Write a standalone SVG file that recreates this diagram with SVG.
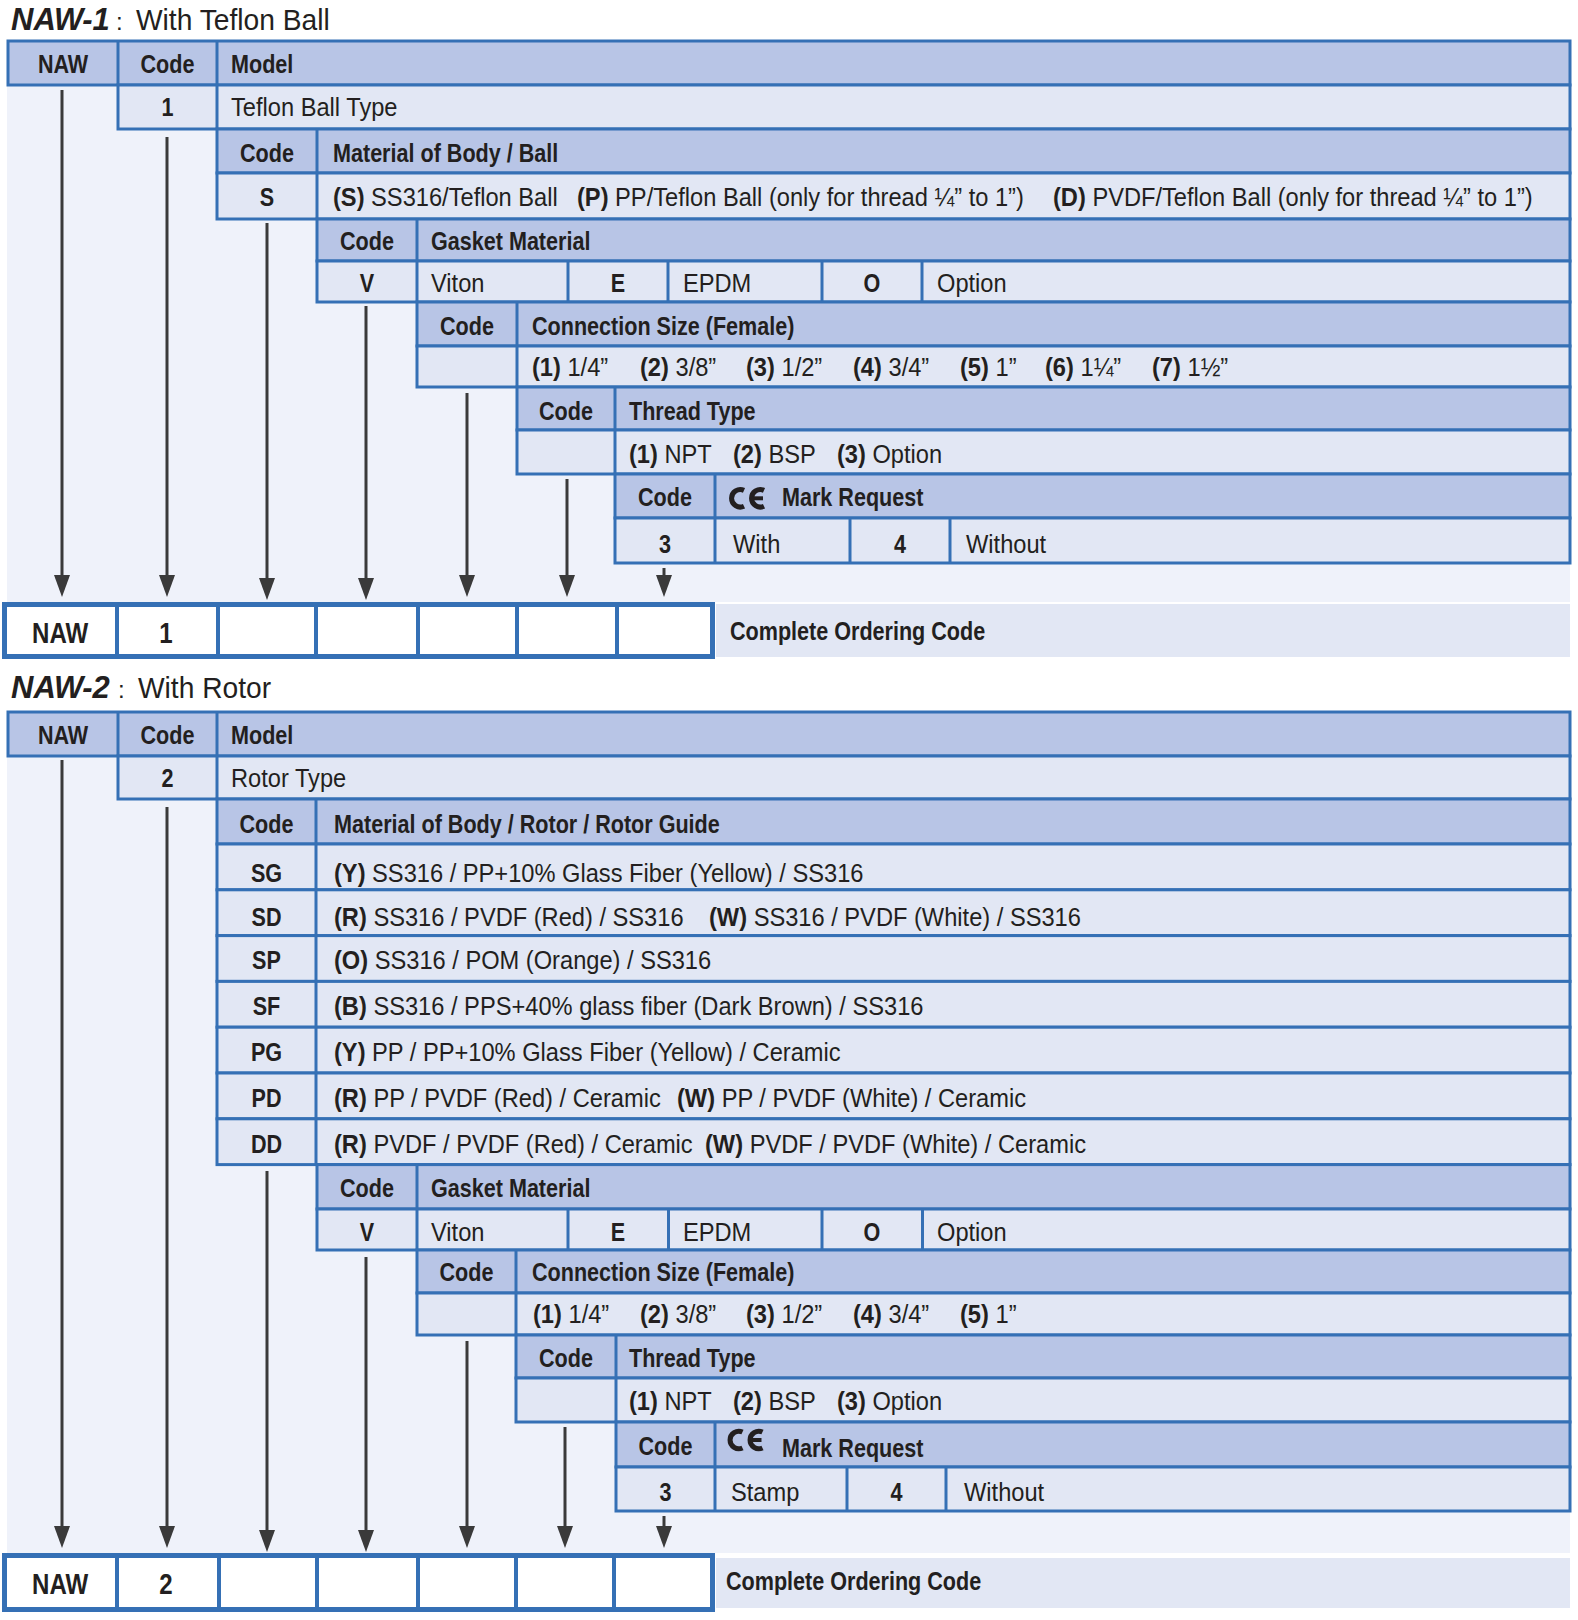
<svg xmlns="http://www.w3.org/2000/svg" width="1578" height="1620" viewBox="0 0 1578 1620">
<defs>
<style>
.bg{fill:#eff2fa}
.h{fill:#b8c5e6;stroke:#3570b5;stroke-width:3}
.w{fill:#e2e7f4;stroke:#3570b5;stroke-width:3}
.dv{stroke:#3570b5;stroke-width:3;fill:none}
.box{fill:#ffffff;stroke:#3570b5;stroke-width:5}
.bdv{stroke:#3570b5;stroke-width:4;fill:none}
.pan{fill:#e2e7f4}
.t{font-family:"Liberation Sans",Arial,sans-serif;fill:#231f20;transform-box:fill-box}
.b{font-weight:700;font-size:26px;transform:scaleX(.83)}
.r{font-weight:400;font-size:26px;transform:scaleX(.91)}
.bb{font-weight:700;font-size:29px;transform:scaleX(.83)}
.tb{font-weight:700;font-style:italic;font-size:31px}
.tr{font-weight:400;font-size:30px;transform:scaleX(.94)}
.tc{font-weight:400;font-size:24px}
.s{transform-origin:left center}
.c{text-anchor:middle;transform-origin:center}
.k{font-weight:700}
.ce{fill:none;stroke:#231f20;stroke-width:5}
.cb{fill:none;stroke:#231f20;stroke-width:4}
.ar{stroke:#3a3a3a;stroke-width:3;fill:none;marker-end:url(#ah)}
</style>
<marker id="ah" markerUnits="userSpaceOnUse" markerWidth="22" markerHeight="16" refX="10" refY="8" orient="auto">
<path d="M0,0 L22,8 L0,16 Z" fill="#3a3a3a"/>
</marker>
</defs>

<!-- ================= NAW-1 ================= -->
<g id="naw1-title">
<text class="t tb s" x="11" y="30">NAW-1</text>
<text class="t tc s" x="116" y="30">:</text>
<text class="t tr s" x="136" y="30">With Teflon Ball</text>
</g>
<rect class="bg" x="7" y="85" width="1563" height="517"/>

<g id="naw1-model">
<rect class="h" x="8" y="41" width="1562" height="44"/>
<line class="dv" x1="118" y1="41" x2="118" y2="85"/>
<line class="dv" x1="217" y1="41" x2="217" y2="85"/>
<text class="t b c" x="63" y="73">NAW</text>
<text class="t b c" x="167.5" y="73">Code</text>
<text class="t b s" x="231" y="73">Model</text>
<rect class="w" x="118" y="85" width="1452" height="44"/>
<line class="dv" x1="217" y1="85" x2="217" y2="129"/>
<text class="t b c" x="167.5" y="116">1</text>
<text class="t r s" x="231" y="116">Teflon Ball Type</text>
</g>

<g id="naw1-material">
<rect class="h" x="217" y="129" width="1353" height="44"/>
<line class="dv" x1="317" y1="129" x2="317" y2="173"/>
<text class="t b c" x="267" y="162.5">Code</text>
<text class="t b s" x="333" y="162.5">Material of Body / Ball</text>
<rect class="w" x="217" y="173" width="1353" height="46"/>
<line class="dv" x1="317" y1="173" x2="317" y2="219"/>
<text class="t b c" x="267" y="206">S</text>
<text class="t r s" x="333" y="206"><tspan class="k">(S)</tspan> SS316/Teflon Ball</text>
<text class="t r s" x="577" y="206"><tspan class="k">(P)</tspan> PP/Teflon Ball (only for thread ¼” to 1”)</text>
<text class="t r s" x="1053" y="206"><tspan class="k">(D)</tspan> PVDF/Teflon Ball (only for thread ¼” to 1”)</text>
</g>

<g id="naw1-gasket">
<rect class="h" x="317" y="219" width="1253" height="42"/>
<line class="dv" x1="417" y1="219" x2="417" y2="261"/>
<text class="t b c" x="367" y="250">Code</text>
<text class="t b s" x="431" y="250">Gasket Material</text>
<rect class="w" x="317" y="261" width="1253" height="41"/>
<line class="dv" x1="417" y1="261" x2="417" y2="302"/>
<line class="dv" x1="568" y1="261" x2="568" y2="302"/>
<line class="dv" x1="668" y1="261" x2="668" y2="302"/>
<line class="dv" x1="822" y1="261" x2="822" y2="302"/>
<line class="dv" x1="922" y1="261" x2="922" y2="302"/>
<text class="t b c" x="367" y="292.5">V</text>
<text class="t r s" x="431" y="292.5">Viton</text>
<text class="t b c" x="618" y="292.5">E</text>
<text class="t r s" x="683" y="292.5">EPDM</text>
<text class="t b c" x="872" y="292.5">O</text>
<text class="t r s" x="937" y="292.5">Option</text>
</g>

<g id="naw1-size">
<rect class="h" x="417" y="302" width="1153" height="44"/>
<line class="dv" x1="517" y1="302" x2="517" y2="346"/>
<text class="t b c" x="467" y="335">Code</text>
<text class="t b s" x="532" y="335">Connection Size (Female)</text>
<rect class="w" x="417" y="346" width="1153" height="41"/>
<line class="dv" x1="517" y1="346" x2="517" y2="387"/>
<text class="t r s" x="532" y="376.5"><tspan class="k">(1)</tspan> 1/4”</text>
<text class="t r s" x="640" y="376.5"><tspan class="k">(2)</tspan> 3/8”</text>
<text class="t r s" x="746" y="376.5"><tspan class="k">(3)</tspan> 1/2”</text>
<text class="t r s" x="853" y="376.5"><tspan class="k">(4)</tspan> 3/4”</text>
<text class="t r s" x="960" y="376.5"><tspan class="k">(5)</tspan> 1”</text>
<text class="t r s" x="1045" y="376.5"><tspan class="k">(6)</tspan> 1¼”</text>
<text class="t r s" x="1152" y="376.5"><tspan class="k">(7)</tspan> 1½”</text>
</g>

<g id="naw1-thread">
<rect class="h" x="517" y="387" width="1053" height="43"/>
<line class="dv" x1="615" y1="387" x2="615" y2="430"/>
<text class="t b c" x="566" y="420">Code</text>
<text class="t b s" x="629" y="420">Thread Type</text>
<rect class="w" x="517" y="430" width="1053" height="44"/>
<line class="dv" x1="615" y1="430" x2="615" y2="474"/>
<text class="t r s" x="629" y="463.5"><tspan class="k">(1)</tspan> NPT</text>
<text class="t r s" x="733" y="463.5"><tspan class="k">(2)</tspan> BSP</text>
<text class="t r s" x="837" y="463.5"><tspan class="k">(3)</tspan> Option</text>
</g>

<g id="naw1-ce">
<rect class="h" x="615" y="474" width="955" height="44"/>
<line class="dv" x1="715" y1="474" x2="715" y2="518"/>
<text class="t b c" x="665" y="506.5">Code</text>
<path class="ce" d="M744,490.37 A8.75,8.75 0 1 0 744,506.23"/>
<path class="ce" d="M764,490.37 A8.75,8.75 0 1 0 764,506.23"/>
<path class="cb" d="M752,498.3 H763"/>
<text class="t b s" x="782" y="506.5">Mark Request</text>
<rect class="w" x="615" y="518" width="955" height="45"/>
<line class="dv" x1="715" y1="518" x2="715" y2="563"/>
<line class="dv" x1="850" y1="518" x2="850" y2="563"/>
<line class="dv" x1="950" y1="518" x2="950" y2="563"/>
<text class="t b c" x="665" y="553">3</text>
<text class="t r s" x="733" y="553">With</text>
<text class="t b c" x="900" y="553">4</text>
<text class="t r s" x="966" y="553">Without</text>
</g>

<g id="naw1-order">
<rect class="pan" x="716" y="604" width="854" height="53"/>
<text class="t b s" x="730" y="640">Complete Ordering Code</text>
<rect class="box" x="4.5" y="604.5" width="708" height="52"/>
<line class="bdv" x1="117" y1="604" x2="117" y2="657"/>
<line class="bdv" x1="218" y1="604" x2="218" y2="657"/>
<line class="bdv" x1="316" y1="604" x2="316" y2="657"/>
<line class="bdv" x1="418" y1="604" x2="418" y2="657"/>
<line class="bdv" x1="517" y1="604" x2="517" y2="657"/>
<line class="bdv" x1="617" y1="604" x2="617" y2="657"/>
<text class="t bb c" x="60" y="643">NAW</text>
<text class="t bb c" x="166" y="643">1</text>
</g>

<g id="naw1-connectors">
<line class="ar" x1="62" y1="90" x2="62" y2="585"/>
<line class="ar" x1="167" y1="137" x2="167" y2="585"/>
<line class="ar" x1="267" y1="223" x2="267" y2="588"/>
<line class="ar" x1="366" y1="306" x2="366" y2="588"/>
<line class="ar" x1="467" y1="393" x2="467" y2="585"/>
<line class="ar" x1="567" y1="479" x2="567" y2="585"/>
<line class="ar" x1="664" y1="568" x2="664" y2="585"/>
</g>

<!-- ================= NAW-2 ================= -->
<g id="naw2-title">
<text class="t tb s" x="11" y="698">NAW-2</text>
<text class="t tc s" x="118" y="698">:</text>
<text class="t tr s" x="138" y="698">With Rotor</text>
</g>
<rect class="bg" x="7" y="756" width="1563" height="797"/>

<g id="naw2-model">
<rect class="h" x="8" y="712" width="1562" height="44"/>
<line class="dv" x1="118" y1="712" x2="118" y2="756"/>
<line class="dv" x1="217" y1="712" x2="217" y2="756"/>
<text class="t b c" x="63" y="744">NAW</text>
<text class="t b c" x="167.5" y="744">Code</text>
<text class="t b s" x="231" y="744">Model</text>
<rect class="w" x="118" y="756" width="1452" height="43"/>
<line class="dv" x1="217" y1="756" x2="217" y2="799"/>
<text class="t b c" x="167.5" y="787">2</text>
<text class="t r s" x="231" y="787">Rotor Type</text>
</g>

<g id="naw2-material">
<rect class="h" x="217" y="799" width="1353" height="45"/>
<line class="dv" x1="316" y1="799" x2="316" y2="844"/>
<text class="t b c" x="266.5" y="833">Code</text>
<text class="t b s" x="334" y="833">Material of Body / Rotor / Rotor Guide</text>
<rect class="w" x="217" y="844" width="1353" height="45.8"/>
<rect class="w" x="217" y="889.8" width="1353" height="45.8"/>
<rect class="w" x="217" y="935.6" width="1353" height="45.8"/>
<rect class="w" x="217" y="981.4" width="1353" height="45.8"/>
<rect class="w" x="217" y="1027.2" width="1353" height="45.8"/>
<rect class="w" x="217" y="1073" width="1353" height="45.8"/>
<rect class="w" x="217" y="1118.8" width="1353" height="45.8"/>
<line class="dv" x1="316" y1="844" x2="316" y2="1164.6"/>
<text class="t b c" x="266.5" y="882">SG</text>
<text class="t r s" x="334" y="882"><tspan class="k">(Y)</tspan> SS316 / PP+10% Glass Fiber (Yellow) / SS316</text>
<text class="t b c" x="266.5" y="926">SD</text>
<text class="t r s" x="334" y="926"><tspan class="k">(R)</tspan> SS316 / PVDF (Red) / SS316</text>
<text class="t r s" x="709" y="926"><tspan class="k">(W)</tspan> SS316 / PVDF (White) / SS316</text>
<text class="t b c" x="266.5" y="969.5">SP</text>
<text class="t r s" x="334" y="969.5"><tspan class="k">(O)</tspan> SS316 / POM (Orange) / SS316</text>
<text class="t b c" x="266.5" y="1015">SF</text>
<text class="t r s" x="334" y="1015"><tspan class="k">(B)</tspan> SS316 / PPS+40% glass fiber (Dark Brown) / SS316</text>
<text class="t b c" x="266.5" y="1060.7">PG</text>
<text class="t r s" x="334" y="1060.7"><tspan class="k">(Y)</tspan> PP / PP+10% Glass Fiber (Yellow) / Ceramic</text>
<text class="t b c" x="266.5" y="1106.7">PD</text>
<text class="t r s" x="334" y="1106.7"><tspan class="k">(R)</tspan> PP / PVDF (Red) / Ceramic</text>
<text class="t r s" x="677" y="1106.7"><tspan class="k">(W)</tspan> PP / PVDF (White) / Ceramic</text>
<text class="t b c" x="266.5" y="1152.7">DD</text>
<text class="t r s" x="334" y="1152.7"><tspan class="k">(R)</tspan> PVDF / PVDF (Red) / Ceramic</text>
<text class="t r s" x="705" y="1152.7"><tspan class="k">(W)</tspan> PVDF / PVDF (White) / Ceramic</text>
</g>

<g id="naw2-gasket">
<rect class="h" x="317" y="1164.6" width="1253" height="44.4"/>
<line class="dv" x1="417" y1="1164.6" x2="417" y2="1209"/>
<text class="t b c" x="367" y="1197">Code</text>
<text class="t b s" x="431" y="1197">Gasket Material</text>
<rect class="w" x="317" y="1209" width="1253" height="41"/>
<line class="dv" x1="417" y1="1209" x2="417" y2="1250"/>
<line class="dv" x1="568" y1="1209" x2="568" y2="1250"/>
<line class="dv" x1="668.5" y1="1209" x2="668.5" y2="1250"/>
<line class="dv" x1="822" y1="1209" x2="822" y2="1250"/>
<line class="dv" x1="922.5" y1="1209" x2="922.5" y2="1250"/>
<text class="t b c" x="367" y="1241">V</text>
<text class="t r s" x="431" y="1241">Viton</text>
<text class="t b c" x="618" y="1241">E</text>
<text class="t r s" x="683" y="1241">EPDM</text>
<text class="t b c" x="872" y="1241">O</text>
<text class="t r s" x="937" y="1241">Option</text>
</g>

<g id="naw2-size">
<rect class="h" x="417" y="1250" width="1153" height="43"/>
<line class="dv" x1="516" y1="1250" x2="516" y2="1293"/>
<text class="t b c" x="466.5" y="1281.5">Code</text>
<text class="t b s" x="532" y="1281.5">Connection Size (Female)</text>
<rect class="w" x="417" y="1293" width="1153" height="42"/>
<line class="dv" x1="516" y1="1293" x2="516" y2="1335"/>
<text class="t r s" x="533" y="1323"><tspan class="k">(1)</tspan> 1/4”</text>
<text class="t r s" x="640" y="1323"><tspan class="k">(2)</tspan> 3/8”</text>
<text class="t r s" x="746" y="1323"><tspan class="k">(3)</tspan> 1/2”</text>
<text class="t r s" x="853" y="1323"><tspan class="k">(4)</tspan> 3/4”</text>
<text class="t r s" x="960" y="1323"><tspan class="k">(5)</tspan> 1”</text>
</g>

<g id="naw2-thread">
<rect class="h" x="516" y="1335" width="1054" height="43"/>
<line class="dv" x1="616" y1="1335" x2="616" y2="1378"/>
<text class="t b c" x="566" y="1367.5">Code</text>
<text class="t b s" x="629" y="1367.5">Thread Type</text>
<rect class="w" x="516" y="1378" width="1054" height="44"/>
<line class="dv" x1="616" y1="1378" x2="616" y2="1422"/>
<text class="t r s" x="629" y="1410.5"><tspan class="k">(1)</tspan> NPT</text>
<text class="t r s" x="733" y="1410.5"><tspan class="k">(2)</tspan> BSP</text>
<text class="t r s" x="837" y="1410.5"><tspan class="k">(3)</tspan> Option</text>
</g>

<g id="naw2-ce">
<rect class="h" x="616" y="1422" width="954" height="45"/>
<line class="dv" x1="715" y1="1422" x2="715" y2="1467"/>
<text class="t b c" x="665.5" y="1455">Code</text>
<path class="ce" d="M742.5,1432.07 A8.75,8.75 0 1 0 742.5,1447.93"/>
<path class="ce" d="M762.5,1432.07 A8.75,8.75 0 1 0 762.5,1447.93"/>
<path class="cb" d="M750.5,1440 H761.5"/>
<text class="t b s" x="782" y="1457">Mark Request</text>
<rect class="w" x="616" y="1467" width="954" height="44"/>
<line class="dv" x1="715" y1="1467" x2="715" y2="1511"/>
<line class="dv" x1="847" y1="1467" x2="847" y2="1511"/>
<line class="dv" x1="946" y1="1467" x2="946" y2="1511"/>
<text class="t b c" x="665.5" y="1500.7">3</text>
<text class="t r s" x="731" y="1500.7">Stamp</text>
<text class="t b c" x="896.5" y="1500.7">4</text>
<text class="t r s" x="964" y="1500.7">Without</text>
</g>

<g id="naw2-order">
<rect class="pan" x="716" y="1558" width="854" height="50"/>
<text class="t b s" x="726" y="1590">Complete Ordering Code</text>
<rect class="box" x="4.5" y="1555.5" width="708" height="54"/>
<line class="bdv" x1="117" y1="1555" x2="117" y2="1610"/>
<line class="bdv" x1="219" y1="1555" x2="219" y2="1610"/>
<line class="bdv" x1="317" y1="1555" x2="317" y2="1610"/>
<line class="bdv" x1="418" y1="1555" x2="418" y2="1610"/>
<line class="bdv" x1="516" y1="1555" x2="516" y2="1610"/>
<line class="bdv" x1="614" y1="1555" x2="614" y2="1610"/>
<text class="t bb c" x="60" y="1594">NAW</text>
<text class="t bb c" x="166" y="1594">2</text>
</g>

<g id="naw2-connectors">
<line class="ar" x1="62" y1="760" x2="62" y2="1536"/>
<line class="ar" x1="167" y1="807" x2="167" y2="1536"/>
<line class="ar" x1="267" y1="1171" x2="267" y2="1540"/>
<line class="ar" x1="366" y1="1257" x2="366" y2="1540"/>
<line class="ar" x1="467" y1="1341" x2="467" y2="1536"/>
<line class="ar" x1="565" y1="1427" x2="565" y2="1536"/>
<line class="ar" x1="664" y1="1516" x2="664" y2="1536"/>
</g>
</svg>
